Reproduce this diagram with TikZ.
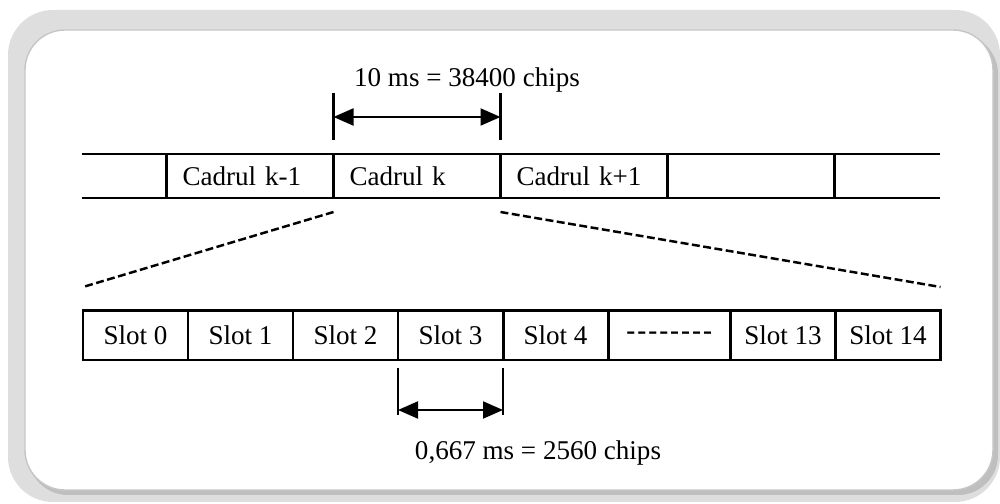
\documentclass[tikz,border=0pt]{standalone}
\usepackage{fontspec}
\setmainfont{Liberation Serif}
\usetikzlibrary{positioning, arrows.meta, calc}

\newcommand{\hy}{\mbox{-}\kern1.1pt}

\begin{document}
\begin{tikzpicture}[
        node distance=0pt,
        every node/.style={font=\fontsize{15.4}{18}\selectfont, outer sep=0pt},
        cadru/.style={draw, line width=1.3pt, minimum width=3.34cm, minimum height=0.88cm, text width=2.7cm, inner xsep=0.32cm, align=left},
        slot/.style={draw, line width=1.7pt, minimum width=#1, minimum height=0.98cm, inner sep=0pt},
        slot/.default=2.1cm,
        tickline/.style={line width=1.3pt},
        dimarr/.style={{Triangle[length=0.4cm, width=0.34cm]}-{Triangle[length=0.4cm, width=0.34cm]}, line width=1.2pt},
        zoomline/.style={dash pattern=on 4.5pt off 2pt, line width=1.4pt},
    ]
    \useasboundingbox (0,0) rectangle (20,10.08);

    % Rounded frame
    \fill[gray!26, rounded corners=0.9cm] (0.16,0.04) rectangle (20,9.88);
    \fill[gray!50, rounded corners=0.8cm] (0.56,0.18) rectangle (19.96,9.4);
    \filldraw[fill=white, draw=gray!45, line width=0.8pt, rounded corners=0.8cm] (0.5,0.28) rectangle (19.86,9.48);

    % Frames
    \node[cadru] (c1) at (5.0,6.56) {Cadrul k-1};
    \node[cadru, right=of c1] (c2) {Cadrul k};
    \node[cadru, right=of c2] (c3) {Cadrul k+1};
    \node[cadru, right=of c3] (c4) {};
    \coordinate[left=1.7cm of c1.north west] (barNW);
    \coordinate[left=1.7cm of c1.south west] (barSW);
    \coordinate[right=2.11cm of c4.north east] (barNE);
    \coordinate[right=2.11cm of c4.south east] (barSE);
    \draw[tickline] (barNW) -- (c1.north west);
    \draw[tickline] (barSW) -- (c1.south west);
    \draw[tickline] (c4.north east) -- (barNE);
    \draw[tickline] (c4.south east) -- (barSE);

    % Slots
    \node[slot] (s0) at (2.71,3.37) {Slot 0};
    \node[slot, right=of s0] (s1) {Slot 1};
    \node[slot, right=of s1] (s2) {Slot 2};
    \node[slot, right=of s2] (s3) {Slot 3};
    \node[slot, right=of s3] (s4) {Slot 4};
    \node[slot=2.45cm, right=of s4] (s5) {\textbf{\hy\hy\hy\hy\hy\hy\hy\mbox{-}}};
    \node[slot, right=of s5] (s6) {Slot 13};
    \node[slot, right=of s6] (s7) {Slot 14};

    % Frame duration
    \coordinate[above=0.28cm of c2.north west] (fL0);
    \coordinate[above=0.94cm of fL0] (fL1);
    \coordinate[above=0.46cm of fL0] (fLa);
    \coordinate[above=0.28cm of c2.north east] (fR0);
    \coordinate[above=0.94cm of fR0] (fR1);
    \coordinate[above=0.46cm of fR0] (fRa);
    \draw[tickline] (fL0) -- (fL1);
    \draw[tickline] (fR0) -- (fR1);
    \draw[dimarr] (fLa) -- (fRa);
    \node (flbl) at (9.34,8.48) {10 ms = 38400 chips};

    % Zoom lines
    \coordinate[below=0.28cm of c2.south west] (zL0);
    \coordinate[above=0.48cm of s0.north west] (zL1);
    \coordinate[below=0.28cm of c2.south east] (zR0);
    \coordinate[above=0.48cm of s7.north east] (zR1);
    \draw[zoomline] (zL0) -- (zL1);
    \draw[zoomline] (zR0) -- (zR1);

    % Slot duration
    \coordinate[below=0.16cm of s3.south west] (sL0);
    \coordinate[below=0.94cm of sL0] (sL1);
    \coordinate[below=0.84cm of sL0] (sLa);
    \coordinate[below=0.16cm of s3.south east] (sR0);
    \coordinate[below=0.94cm of sR0] (sR1);
    \coordinate[below=0.84cm of sR0] (sRa);
    \draw[tickline] (sL0) -- (sL1);
    \draw[tickline] (sR0) -- (sR1);
    \draw[dimarr] (sLa) -- (sRa);
    \node (slbl) at (10.76,1.02) {0,667 ms = 2560 chips};

\end{tikzpicture}
\end{document}
